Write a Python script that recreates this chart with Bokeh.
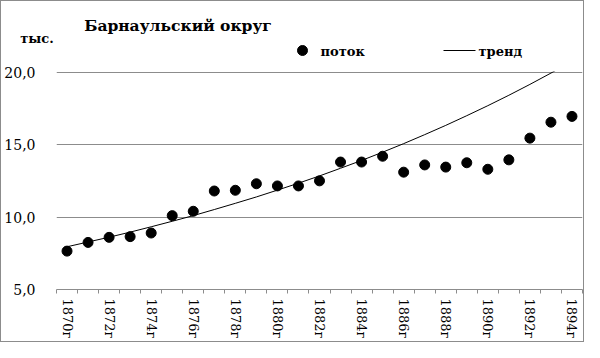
from bokeh.plotting import figure
from bokeh.layouts import column
from bokeh.models import FixedTicker, ColumnDataSource, Range1d
from bokeh.core.properties import value
from bokeh.embed import file_html
from bokeh.resources import INLINE

years = [1870, 1871, 1872, 1873, 1874, 1875, 1876, 1877, 1878, 1879, 1880, 1881, 1882,
         1883, 1884, 1885, 1886, 1887, 1888, 1889, 1890, 1891, 1892, 1893, 1894]
flow = [7.65, 8.25, 8.6, 8.65, 8.9, 10.1, 10.4, 11.8, 11.85, 12.3, 12.15, 12.15, 12.5,
        13.8, 13.8, 14.2, 13.1, 13.6, 13.45, 13.75, 13.3, 13.95, 15.45, 16.55, 16.95]
trend = [7.95, 8.28, 8.61, 8.96, 9.33, 9.71, 10.10, 10.52, 10.95, 11.39, 11.86, 12.34, 12.84,
         13.37, 13.91, 14.48, 15.07, 15.69, 16.33, 17.00, 17.69, 18.41, 19.16, 19.94, 20.75]
y_ticks = [5, 10, 15, 20]
y_labels = ["5,0", "10,0", "15,0", "20,0"]
title_text = "Барнаульский округ"
unit_text = "тыс."
series_names = ["поток", "тренд"]

FONT = "DejaVu Serif"
GRID = "#8c8c8c"
W = 582
HH = 61

# header: data units equal page pixels (figure starts 1px in, after the border)
h = figure(width=W, height=HH, x_range=Range1d(1, W + 1), y_range=Range1d(HH + 1, 1),
           output_backend="svg", toolbar_location=None,
           min_border_left=0, min_border_right=0, min_border_top=0, min_border_bottom=0)
h.frame_align = False
h.axis.visible = False
h.grid.visible = False
h.outline_line_color = None
h.text(x=[177.5], y=[25], text=[title_text], text_font=value(FONT), text_font_size="15.5px",
       text_font_style="bold", text_align="center", text_baseline="middle", text_color="black")
h.text(x=[36.5], y=[38], text=[unit_text], text_font=value(FONT), text_font_size="13px",
       text_font_style="bold", text_align="center", text_baseline="middle", text_color="black")
h.scatter(x=[302], y=[50], size=10, color="black")
h.line(x=[443, 475], y=[50, 50], line_color="black", line_width=1)
h.text(x=[320, 478], y=[51, 51], text=series_names, text_font=value(FONT), text_font_size="13px",
       text_font_style="bold", text_align="left", text_baseline="middle", text_color="black")

idx = list(range(len(years)))
src = ColumnDataSource(dict(i=idx, flow=flow, trend=trend))

p = figure(width=W, height=279, x_range=(-0.5, len(years) - 0.5), y_range=(5, 20.05),
           output_backend="svg", toolbar_location=None,
           min_border_left=54, min_border_right=1, min_border_top=9, min_border_bottom=49)
p.outline_line_color = None

p.line("i", "trend", source=src, line_color="black", line_width=1)
p.scatter("i", "flow", source=src, size=10, color="black")

xa = p.xaxis[0]
xa.ticker = FixedTicker(ticks=idx[::2], minor_ticks=[k - 0.5 for k in range(len(years) + 1)])
xa.major_label_overrides = {k: f"{years[k]}г" for k in idx[::2]}
xa.major_label_orientation = "vertical"
xa.major_tick_line_color = None
xa.major_tick_out = 0
xa.major_tick_in = 0
xa.minor_tick_line_color = GRID
xa.minor_tick_out = 4
xa.minor_tick_in = 0
xa.axis_line_color = GRID
xa.major_label_standoff = 5
xa.major_label_text_font = FONT
xa.major_label_text_font_size = "13px"
xa.major_label_text_color = "black"

ya = p.yaxis[0]
ya.ticker = FixedTicker(ticks=y_ticks)
ya.major_label_overrides = {t: l for t, l in zip(y_ticks, y_labels)}
ya.axis_line_color = None
ya.major_tick_line_color = None
ya.minor_tick_line_color = None
ya.major_label_standoff = 15
ya.major_label_text_font = FONT
ya.major_label_text_font_size = "14px"
ya.major_label_text_color = "black"

p.xgrid.visible = False
p.ygrid.ticker = FixedTicker(ticks=y_ticks[1:])
p.ygrid.grid_line_color = GRID

layout = column(h, p, spacing=0, styles={"border": "1px solid #8c8c8c"})

open("out.html", "w").write(file_html(layout, INLINE))
